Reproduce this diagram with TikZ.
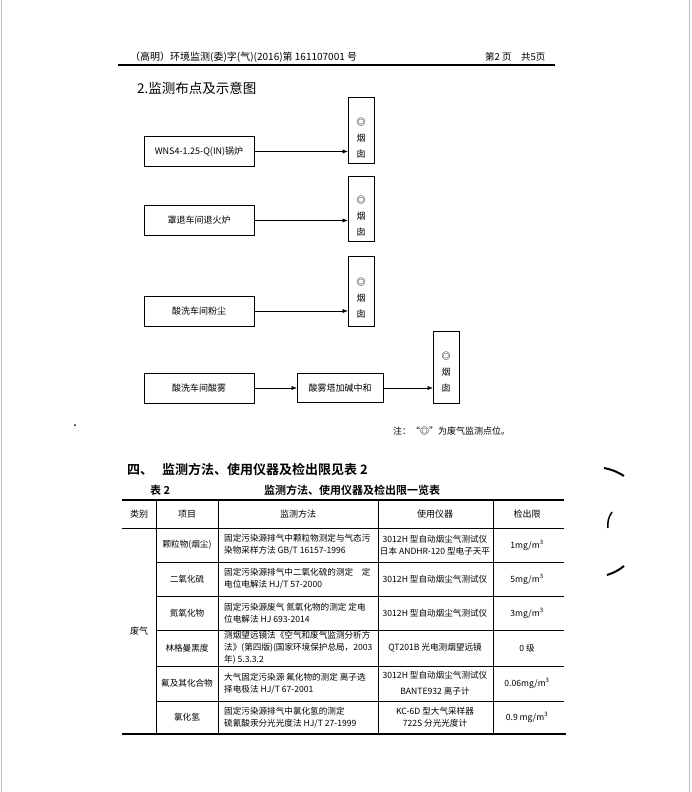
\documentclass[tikz,border=0pt]{standalone}
\usepackage{fontspec}
\setmainfont{Noto Sans CJK SC}[BoldFont=Noto Sans CJK SC Bold]
\usetikzlibrary{arrows.meta}

\begin{document}
\begin{tikzpicture}[x=1pt,y=-1pt,>={Latex[length=5pt,width=4pt]},
  box/.style={draw,line width=0.6pt,inner sep=0pt,minimum width=110pt,minimum height=30pt,font=\fontsize{9}{11}\selectfont},
  chimney/.style={draw,line width=0.6pt,inner sep=0pt,minimum width=26pt},
  chimtxt/.style={align=center,inner sep=0pt,font=\fontsize{9}{16}\selectfont},
  hdr/.style={anchor=west,inner sep=0pt,font=\fontsize{9}{11}\selectfont},
  sechd/.style={anchor=west,inner sep=0pt,font=\bfseries\fontsize{13}{15}\selectfont},
  captxt/.style={inner sep=0pt,font=\bfseries\fontsize{11}{13}\selectfont},
  hdcell/.style={inner sep=0pt,font=\fontsize{9}{11}\selectfont},
  cell/.style={inner sep=0pt,align=center,font=\fontsize{8.6}{12}\selectfont},
  mcell/.style={cell,anchor=west,align=left}]
  \useasboundingbox (0,0) rectangle (692,792);
  \draw[black!25,line width=1pt] (1,0)--(1,792) (689,0)--(689,792);

  \node[hdr,font=\fontsize{10}{12}\selectfont] (docno) at (130,57) {（高明）环境监测(委)字(气)(2016)第 161107001 号};
  \node[hdr,font=\fontsize{9.5}{12}\selectfont] (pageno) at (485,57) {第2 页\quad 共5页};
  \draw[line width=1.1pt] (118,65)--(555,65);

  \node[anchor=west,inner sep=0pt,font=\fontsize{13.5}{15}\selectfont] (sec2) at (137,88) {2.监测布点及示意图};

  \node[box] (boiler) at (199,151.5) {WNS4-1.25-Q(IN)锅炉};
  \node[chimney,minimum height=66pt,label={[chimtxt,yshift=-8pt]center:\textbf{◎}\\烟\\囱}] (chim1) at (361,130) {};
  \draw[->] (boiler.east) -- (boiler.east -| chim1.west);

  \node[box] (anneal) at (199,220.5) {罩退车间退火炉};
  \node[chimney,minimum height=65pt,label={[chimtxt,yshift=-8pt]center:\textbf{◎}\\烟\\囱}] (chim2) at (361,208.5) {};
  \draw[->] (anneal.east) -- (anneal.east -| chim2.west);

  \node[box] (dust) at (199,311) {酸洗车间粉尘};
  \node[chimney,minimum height=70pt,label={[chimtxt,yshift=-7pt]center:\textbf{◎}\\烟\\囱}] (chim3) at (361,291) {};
  \draw[->] (dust.east) -- (dust.east -| chim3.west);

  \node[box] (mist) at (199,388) {酸洗车间酸雾};
  \node[box,minimum width=86pt,minimum height=29pt] (tower) at (340,388) {酸雾塔加碱中和};
  \node[chimney,minimum height=72pt,label={[chimtxt,yshift=-5pt]center:\textbf{◎}\\烟\\囱}] (chim4) at (446,367) {};
  \draw[->] (mist.east) -- (tower.west);
  \draw[->] (tower.east) -- (tower.east -| chim4.west);

  \node[hdr] (note) at (393,431) {注：“\textbf{◎}”为废气监测点位。};
  \fill (75,425) circle (1pt);

  \node[sechd] (sec4a) at (127,470) {四、};
  \node[sechd] (sec4b) at (162,470) {监测方法、使用仪器及检出限见表 2};
  \node[captxt,anchor=west] (tabno) at (150,490) {表 2};
  \node[captxt] (tabttl) at (352,490) {监测方法、使用仪器及检出限一览表};

  \draw[line width=1.2pt] (122,500)--(564,500);
  \draw[line width=0.5pt] (122,528)--(564,528);
  \foreach \y in {562,596,630,666,701}
    \draw[line width=0.5pt] (156,\y)--(564,\y);
  \draw[line width=1.2pt] (122,734)--(566,734);
  \foreach \x in {156,218,378,493}
    \draw[line width=0.5pt] (\x,500)--(\x,734);

  \foreach \x/\t [count=\i] in {139/类别,187/项目,298/监测方法,435/使用仪器,527/检出限}
    \node[hdcell] (head\i) at (\x,514) {\t};
  \node[hdcell] (waste) at (139,631) {废气};
  \foreach \y/\t [count=\i] in {545/颗粒物(烟尘),579/二氧化硫,613/氮氧化物,648/林格曼黑度,683.5/氟及其化合物,717.5/氯化氢}
    \node[cell] (item\i) at (187,\y) {\t};

  \node[mcell] (meth1) at (224,545) {固定污染源排气中颗粒物测定与气态污\\染物采样方法 GB/T 16157-1996};
  \node[mcell] (meth2) at (224,579) {固定污染源排气中二氧化硫的测定\quad 定\\电位电解法 HJ/T 57-2000};
  \node[mcell] (meth3) at (224,613) {固定污染源废气 氮氧化物的测定 定电\\位电解法 HJ 693-2014};
  \node[mcell] (meth4) at (224,648) {测烟望远镜法《空气和废气监测分析方\\法》(第四版)(国家环境保护总局，2003\\年) 5.3.3.2};
  \node[mcell] (meth5) at (224,683.5) {大气固定污染源 氟化物的测定 离子选\\择电极法 HJ/T 67-2001};
  \node[mcell] (meth6) at (224,717.5) {固定污染源排气中氯化氢的测定\\硫氰酸汞分光光度法 HJ/T 27-1999};

  \node[cell] (inst1) at (435,545) {3012H 型自动烟尘气测试仪\\日本 ANDHR-120 型电子天平};
  \node[cell] (inst2) at (435,579) {3012H 型自动烟尘气测试仪};
  \node[cell] (inst3) at (435,613) {3012H 型自动烟尘气测试仪};
  \node[cell] (inst4) at (435,648) {QT201B 光电测烟望远镜};
  \node[cell,font=\fontsize{8.6}{16}\selectfont] (inst5) at (435,683.5) {3012H 型自动烟尘气测试仪\\BANTE932 离子计};
  \node[cell] (inst6) at (435,717.5) {KC-6D 型大气采样器\\722S 分光光度计};

  \node[cell] (lim1) at (527,545) {1mg/m\textsuperscript{3}};
  \node[cell] (lim2) at (527,579) {5mg/m\textsuperscript{3}};
  \node[cell] (lim3) at (527,613) {3mg/m\textsuperscript{3}};
  \node[cell] (lim4) at (527,648) {0 级};
  \node[cell] (lim5) at (527,683.5) {0.06mg/m\textsuperscript{3}};
  \node[cell] (lim6) at (527,717.5) {0.9 mg/m\textsuperscript{3}};

  \draw[line width=2pt] (604,468) to[bend left=10] (624,476);
  \draw[line width=1.5pt] (612,512) to[bend right=20] (608,528);
  \draw[line width=2pt] (607,575) to[bend right=10] (624,566);
\end{tikzpicture}
\end{document}
